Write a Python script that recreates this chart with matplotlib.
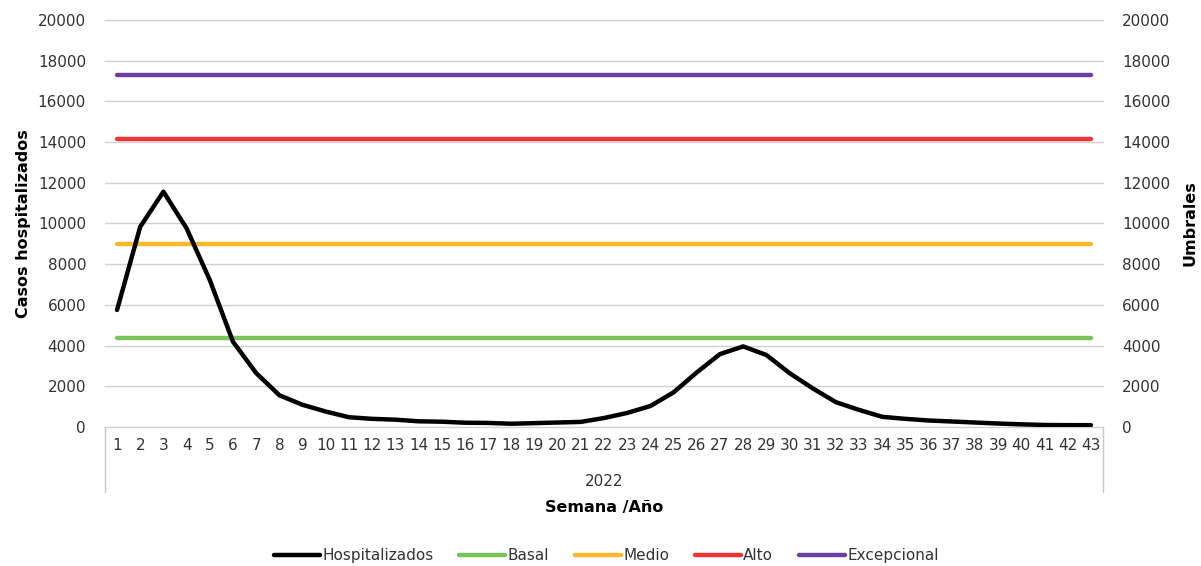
import matplotlib
matplotlib.use("Agg")
import matplotlib.pyplot as plt

plt.rcParams['font.family'] = ['DejaVu Sans']

# weekly data, 2022
semanas = list(range(1, 44))
hospitalizados = [5750, 9840, 11560, 9760, 7220, 4190, 2650, 1560, 1090, 760,
                  480, 400, 360, 280, 260, 210, 200, 160, 190, 220,
                  250, 440, 690, 1030, 1700, 2680, 3580, 3960, 3540, 2650,
                  1900, 1220, 840, 500, 400, 320, 270, 220, 170, 130,
                  100, 90, 90]

# thresholds
basal = 4370
medio = 8990
alto = 14150
excepcional = 17300

umbral_nombres = ['Basal', 'Medio', 'Alto', 'Excepcional']
umbral_valores = [basal, medio, alto, excepcional]
umbral_colores = ['#7ac35a', '#fbb829', '#ef3434', '#6a3fa0']

y_ticks = list(range(0, 20001, 2000))

fig = plt.figure(figsize=(12.01, 5.66), dpi=100)
ax = fig.add_axes([0.0878, 0.2456, 0.8302, 0.7191])

for yt in y_ticks:
    ax.axhline(yt, color='#d0d0d0', lw=1, zorder=0, clip_on=False)

ax.plot(semanas, hospitalizados, color='black', lw=3.2, label='Hospitalizados',
        solid_capstyle='round', solid_joinstyle='round', zorder=5)
for nombre, val, col in zip(umbral_nombres, umbral_valores, umbral_colores):
    ax.plot([semanas[0], semanas[-1]], [val, val], color=col, lw=3.2, label=nombre,
            solid_capstyle='round', zorder=4)

ax.set_xlim(0.5, 43.5)
ax.set_ylim(0, 20000)
ax.set_yticks(y_ticks)
ax.set_xticks(semanas)
ax.set_xticklabels([str(s) for s in semanas])
ax.tick_params(axis='both', length=0, labelsize=11, colors='#333333')
ax.tick_params(axis='y', pad=14)
ax.tick_params(axis='x', pad=8)
for s in ax.spines.values():
    s.set_visible(False)

ax2 = ax.twinx()
ax2.set_ylim(0, 20000)
ax2.set_yticks(y_ticks)
ax2.tick_params(axis='y', length=0, labelsize=11, colors='#333333', pad=14)
for s in ax2.spines.values():
    s.set_visible(False)

ax.set_ylabel('Casos hospitalizados', fontsize=11.5, fontweight='bold', labelpad=5)
ax2.set_ylabel('Umbrales', fontsize=11.5, fontweight='bold', labelpad=9)

# multi-level category separators
for xa in (0, 1):
    ax.plot([xa, xa], [0, -0.16], transform=ax.transAxes, color='#c8c8c8',
            lw=1, clip_on=False)

ax.text(0.5, -0.133, '2022', transform=ax.transAxes, ha='center', va='center',
        fontsize=11, color='#333333')
ax.text(0.5, -0.197, 'Semana /Año', transform=ax.transAxes, ha='center', va='center',
        fontsize=11.5, fontweight='bold')

handles, labels = ax.get_legend_handles_labels()
fig.legend(handles, labels, loc='center', bbox_to_anchor=(0.505, 0.018), ncol=5,
           frameon=False, fontsize=11, handlelength=3, handletextpad=0.15,
           columnspacing=1.7, labelcolor='#333333')

fig.savefig('out.png', dpi=100)
